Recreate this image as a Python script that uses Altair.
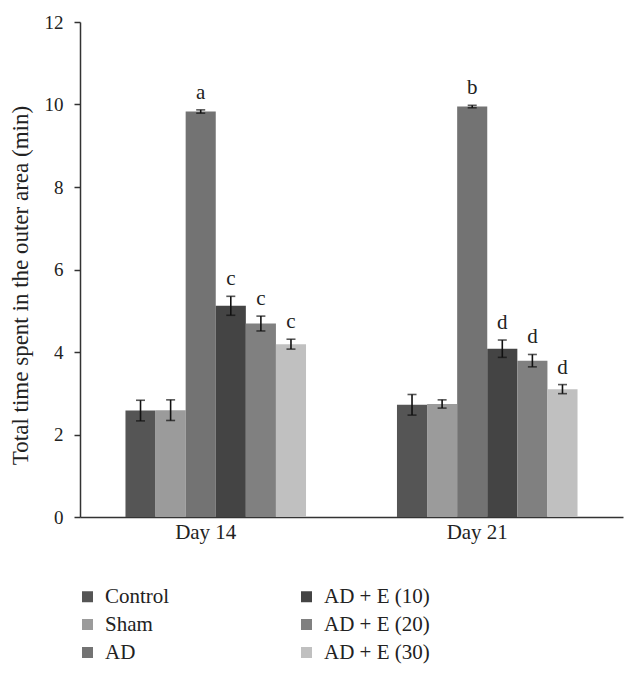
import altair as alt
import pandas as pd

groups = ["Control", "Sham", "AD", "AD + E (10)", "AD + E (20)", "AD + E (30)"]
colors = ["#555555", "#9b9b9b", "#737373", "#444444", "#808080", "#c0c0c0"]
days = ["Day 14", "Day 21"]
day14_mean = [2.58, 2.59, 9.83, 5.12, 4.69, 4.19]
day14_err = [0.25, 0.25, 0.04, 0.23, 0.18, 0.12]
day21_mean = [2.72, 2.74, 9.95, 4.08, 3.79, 3.10]
day21_err = [0.25, 0.10, 0.03, 0.21, 0.15, 0.11]
letters14 = ["", "", "a", "c", "c", "c"]
letters21 = ["", "", "b", "d", "d", "d"]

rows = []
for day, means, errs, lets in [("Day 14", day14_mean, day14_err, letters14),
                                ("Day 21", day21_mean, day21_err, letters21)]:
    for g, m, e, l in zip(groups, means, errs, lets):
        rows.append({"day": day, "group": g, "mean": m, "lo": m - e, "hi": m + e, "letter": l})
df = pd.DataFrame(rows)

FONT = "Liberation Serif"

x = alt.X("day:N", sort=days, title=None,
          scale=alt.Scale(paddingInner=0.335, paddingOuter=0.1675),
          axis=alt.Axis(labelAngle=0, ticks=False, labelFontSize=21, labelPadding=4,
                        labelOffset=-10, labelFont=FONT,
                        domainColor="#333333", domainWidth=1.5, labelColor="#222222"))
xo = alt.XOffset("group:N", sort=groups, scale=alt.Scale(paddingInner=0, paddingOuter=0))

base = alt.Chart(df).encode(x=x, xOffset=xo)

bars = base.mark_bar().encode(
    y=alt.Y("mean:Q", title="Total time spent in the outer area (min)",
            scale=alt.Scale(domain=[0, 12]),
            axis=alt.Axis(values=[0, 2, 4, 6, 8, 10, 12], grid=False, tickSize=6,
                          labelFontSize=19, titleFontSize=23, titleFontWeight="normal",
                          labelFont=FONT, titleFont=FONT,
                          labelPadding=11, titlePadding=12, titleY=263,
                          domainColor="#333333",
                          domainWidth=1.5, tickColor="#333333", tickWidth=1.5,
                          labelColor="#222222", titleColor="#222222")),
    color=alt.Color("group:N",
                    scale=alt.Scale(domain=groups, range=colors),
                    legend=alt.Legend(title=None, orient="none", legendX=-3, legendY=564,
                                      columns=2, direction="vertical", symbolType="square",
                                      symbolSize=121, symbolStrokeWidth=0, labelFontSize=21,
                                      labelFont=FONT,
                                      labelOffset=7, rowPadding=6, columnPadding=126,
                                      labelColor="#222222")),
)

rule = base.mark_rule(color="#111111", strokeWidth=1.6).encode(y="lo:Q", y2="hi:Q")
tick_lo = base.mark_tick(color="#111111", size=9, thickness=1.6, orient="horizontal").encode(y="lo:Q")
tick_hi = base.mark_tick(color="#111111", size=9, thickness=1.6, orient="horizontal").encode(y="hi:Q")
labels = base.mark_text(baseline="alphabetic", dy=-11, fontSize=21, font=FONT, color="#222222").encode(
    y="hi:Q", text="letter:N")

chart = alt.layer(bars, rule, tick_lo, tick_hi, labels).properties(
    width=543, height=495,
    autosize=alt.AutoSizeParams(type="none"),
    padding={"left": 72, "top": 14, "right": 6, "bottom": 150},
).configure(font=FONT).configure_view(stroke=None)

chart.save("out.html", embed_options={"renderer": "svg", "actions": False})
